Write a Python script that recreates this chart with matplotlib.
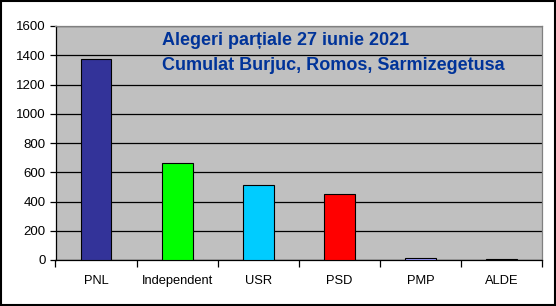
import matplotlib
matplotlib.use("Agg")
import matplotlib.pyplot as plt
from matplotlib.patches import Rectangle

categories = ["PNL", "Independent", "USR", "PSD", "PMP", "ALDE"]
votes = [1372, 662, 511, 449, 13, 6]
colors = ["#333399", "#00FF00", "#00CCFF", "#FF0000", "#9999FF", "#000000"]
yticks = [0, 200, 400, 600, 800, 1000, 1200, 1400, 1600]
title_lines = ["Alegeri parțiale 27 iunie 2021", "Cumulat Burjuc, Romos, Sarmizegetusa"]

plt.rcParams['font.family'] = ['Liberation Sans', 'DejaVu Sans']

fig = plt.figure(figsize=(5.56, 3.06), dpi=100)
fig.patch.set_facecolor("white")
ax = fig.add_axes([55.5/556, 1-260/306, (542-55.5)/556, (260-26)/306])
ax.set_facecolor("#C0C0C0")

x = list(range(len(categories)))
ax.bar(x, votes, width=0.38, color=colors, edgecolor="black", linewidth=0.8, zorder=3)

ax.set_xlim(-0.5, len(categories) - 0.5)
ax.set_ylim(0, 1600)
ax.set_yticks(yticks)
ax.set_yticklabels([str(v) for v in yticks], fontsize=9.5)
ax.yaxis.grid(True, color="black", linewidth=0.9, zorder=1)
ax.set_xticks([i + 0.5 for i in range(-1, len(categories))])
ax.set_xticklabels([])
ax.set_xticks(x, minor=True)
ax.set_xticklabels(categories, minor=True, fontsize=9.3)
ax.tick_params(axis="x", which="minor", length=0, pad=11)
ax.tick_params(axis="x", which="major", length=5, direction="out", width=0.9)
ax.tick_params(axis="y", length=4, direction="out", width=0.9, pad=3)

for side in ["top", "right"]:
    ax.spines[side].set_color("#808080")
    ax.spines[side].set_linewidth(0.9)
for side in ["left", "bottom"]:
    ax.spines[side].set_color("black")
    ax.spines[side].set_linewidth(0.9)

ax.text(0.219, 0.938, title_lines[0], transform=ax.transAxes, fontsize=13,
        fontweight="bold", color="#003399", va="center", ha="left", zorder=5)
ax.text(0.219, 0.832, title_lines[1], transform=ax.transAxes, fontsize=13,
        fontweight="bold", color="#003399", va="center", ha="left", zorder=5)

fig.patches.append(Rectangle((0.001, 0.002), 0.997, 0.996, transform=fig.transFigure,
                             fill=False, edgecolor="black", linewidth=1.5))

fig.savefig("out.png", dpi=100)
